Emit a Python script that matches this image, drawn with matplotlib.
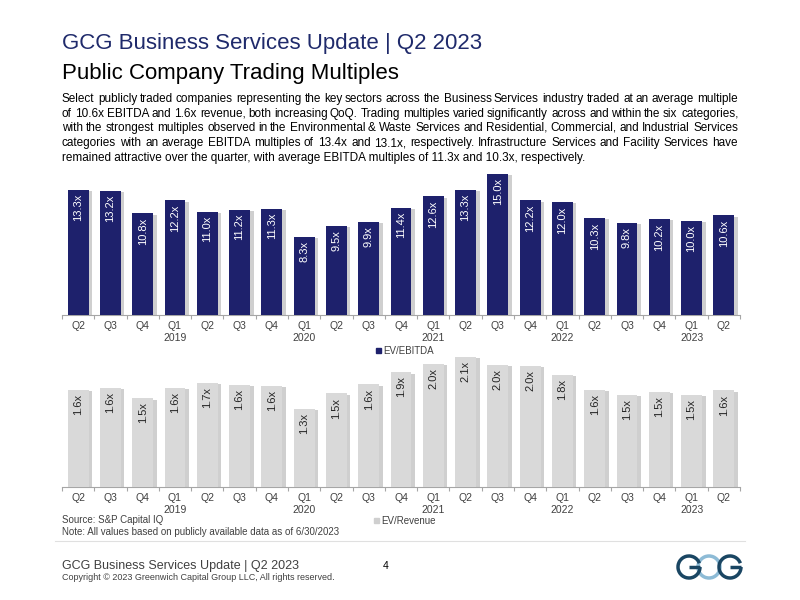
import numpy as np
import matplotlib
matplotlib.use('Agg')
import matplotlib.pyplot as plt
import matplotlib.patheffects as pe
from matplotlib.patches import Arc

plt.rcParams['font.family'] = ['Liberation Sans', 'DejaVu Sans']

# data
quarters = ['Q2', 'Q3', 'Q4', 'Q1\n2019', 'Q2', 'Q3', 'Q4', 'Q1\n2020', 'Q2', 'Q3', 'Q4',
            'Q1\n2021', 'Q2', 'Q3', 'Q4', 'Q1\n2022', 'Q2', 'Q3', 'Q4', 'Q1\n2023', 'Q2']
ev_ebitda = [13.3, 13.2, 10.8, 12.2, 11.0, 11.2, 11.3, 8.3, 9.5, 9.9, 11.4,
             12.6, 13.3, 15.0, 12.2, 12.0, 10.3, 9.8, 10.2, 10.0, 10.6]
ev_revenue = [1.6, 1.6, 1.5, 1.6, 1.7, 1.6, 1.6, 1.3, 1.5, 1.6, 1.9,
              2.0, 2.1, 2.0, 2.0, 1.8, 1.6, 1.5, 1.5, 1.5, 1.6]
# revenue bar heights (labels are rounded)
ev_revenue_h = [1.61, 1.64, 1.47, 1.64, 1.72, 1.69, 1.67, 1.29, 1.55, 1.70, 1.90,
                2.04, 2.16, 2.02, 2.00, 1.86, 1.61, 1.52, 1.57, 1.52, 1.60]

paragraph = [
    "Select publicly traded companies representing the key sectors across the Business Services industry traded at an average multiple",
    "of 10.6x EBITDA and 1.6x revenue, both increasing QoQ. Trading multiples varied significantly across and within the six categories,",
    "with the strongest multiples observed in the Environmental & Waste Services and Residential, Commercial, and Industrial Services",
    "categories with an average EBITDA multiples of 13.4x and 13.1x, respectively. Infrastructure Services and Facility Services have",
    "remained attractive over the quarter, with average EBITDA multiples of 11.3x and 10.3x, respectively.",
]

navy = '#1e216c'
bar_grey = '#d9d9d9'

W, H = 800, 600
fig = plt.figure(figsize=(8, 6), dpi=100)


def fx(px):
    return px / W


def fy(py):
    return 1 - py / H


# header
hdr = '#1f2a6b'
fig.text(fx(62), fy(43), 'GCG Business Services Update', color=hdr, fontsize=16, va='center')
t1 = fig.text(fx(62), fy(43), 'GCG Business Services Update ', color=hdr, fontsize=16, va='center', alpha=0)
fig.canvas.draw()
r = fig.canvas.get_renderer()
bb = t1.get_window_extent(r)
fig.text(bb.x1 / W, fy(43), '| Q2 2023', color=hdr, fontsize=16, va='center')
fig.text(fx(62), fy(73), 'Public Company Trading Multiples', color='black', fontsize=16, va='center')

# justified paragraph (words placed one by one, baseline on whole pixels)
left, right = 62, 738
fs = 8.5
ys = [102, 117, 131, 146, 161]
for i, line in enumerate(paragraph):
    words = line.split(' ')
    y = H - ys[i]
    if i == len(paragraph) - 1:
        fig.text(left, y, line, fontsize=fs, va='baseline', color='black', transform=None)
        continue
    widths = []
    for w in words:
        tt = fig.text(0, 0, w, fontsize=fs)
        widths.append(tt.get_window_extent(r).width)
        tt.remove()
    gap = (right - left - sum(widths)) / (len(words) - 1)
    x = left
    for w, wd in zip(words, widths):
        fig.text(round(x), y, w, fontsize=fs, va='baseline', color='black', transform=None)
        x += wd + gap


def draw_bars(ax, heights, labels, color, txt_color, ymax, offset):
    x = np.arange(len(heights))
    bars = ax.bar(x, heights, width=0.65, color=color, zorder=3)
    for b in bars:
        b.set_path_effects([pe.SimplePatchShadow(offset=(2.5, -1), shadow_rgbFace='#a0a0a0', alpha=0.5),
                            pe.Normal()])
    for xi, h, lab in zip(x, heights, labels):
        ax.text(xi, h - offset, lab, rotation=90, ha='center', va='top',
                color=txt_color, fontsize=8, zorder=4)
    ax.set_xlim(-0.5, len(heights) - 0.5)
    ax.set_ylim(0, ymax)
    ax.set_yticks([])
    for s in ['top', 'right', 'left']:
        ax.spines[s].set_visible(False)
    ax.spines['bottom'].set_color('#a6a6a6')
    ax.spines['bottom'].set_linewidth(0.8)
    ax.set_xticks(x)
    ax.set_xticklabels(quarters, fontsize=7.5, color='#404040', linespacing=1.25)
    ax.tick_params(axis='x', length=0, pad=4)
    ax.set_xticks(np.arange(-0.5, len(heights)), minor=True)
    ax.tick_params(axis='x', which='minor', length=3, color='#a6a6a6', width=0.8)


ax1 = fig.add_axes([fx(62), fy(315), fx(740) - fx(62), fy(172) - fy(315)])
draw_bars(ax1, ev_ebitda, ['%.1fx' % v for v in ev_ebitda], navy, 'white', 15.2, 0.45)

ax2 = fig.add_axes([fx(62), fy(487), fx(740) - fx(62), fy(357) - fy(487)])
draw_bars(ax2, ev_revenue_h, ['%.1fx' % v for v in ev_revenue], bar_grey, '#262626', 2.15, 0.07)

# legends
fig.patches.append(plt.Rectangle((fx(376), fy(353)), 5 / W, 5 / H, color=navy, transform=fig.transFigure))
fig.text(fx(383), fy(350.5), 'EV/EBITDA', fontsize=7, color='#404040', va='center')
fig.patches.append(plt.Rectangle((fx(374), fy(523)), 5 / W, 5 / H, color='#cfcfcf', transform=fig.transFigure))
fig.text(fx(381), fy(520.5), 'EV/Revenue', fontsize=7, color='#404040', va='center')

# source / note
fig.text(fx(62), fy(520), 'Source: S&P Capital IQ', fontsize=7, color='#404040', va='center')
fig.text(fx(62), fy(532), 'Note: All values based on publicly available data as of 6/30/2023', fontsize=7,
         color='#404040', va='center')
fig.add_artist(plt.Line2D([fx(55), fx(745)], [fy(541), fy(541)], color='#e0e0e0', lw=0.8))

# footer
fig.text(fx(62), fy(566), 'GCG Business Services Update | Q2 2023', fontsize=9, color='#404040', va='center')
fig.text(fx(62), fy(578), 'Copyright \u00a9 2023 Greenwich Capital Group LLC, All rights reserved.', fontsize=6.5,
         color='#404040', va='center')
fig.text(fx(383), fy(566), '4', fontsize=7.5, color='black', va='center')

# logo
lax = fig.add_axes([fx(672), fy(584), 80 / W, 34 / H])
lax.set_xlim(0, 80)
lax.set_ylim(0, 34)
lax.set_aspect('equal')
lax.axis('off')
dark = '#1a4663'
light = '#8dbbd6'
lax.add_patch(Arc((37, 17), 22, 22, theta1=0, theta2=360, color=light, lw=2.5))
lax.add_patch(Arc((17, 17), 22, 22, theta1=20, theta2=360, color=dark, lw=2.5))
lax.plot([17, 28], [17, 17], color=dark, lw=2.5, solid_capstyle='butt')
lax.add_patch(Arc((58, 17), 22, 22, theta1=20, theta2=360, color=dark, lw=2.5))
lax.plot([58, 69], [17, 17], color=dark, lw=2.5, solid_capstyle='butt')

fig.savefig('out.png', dpi=100)
